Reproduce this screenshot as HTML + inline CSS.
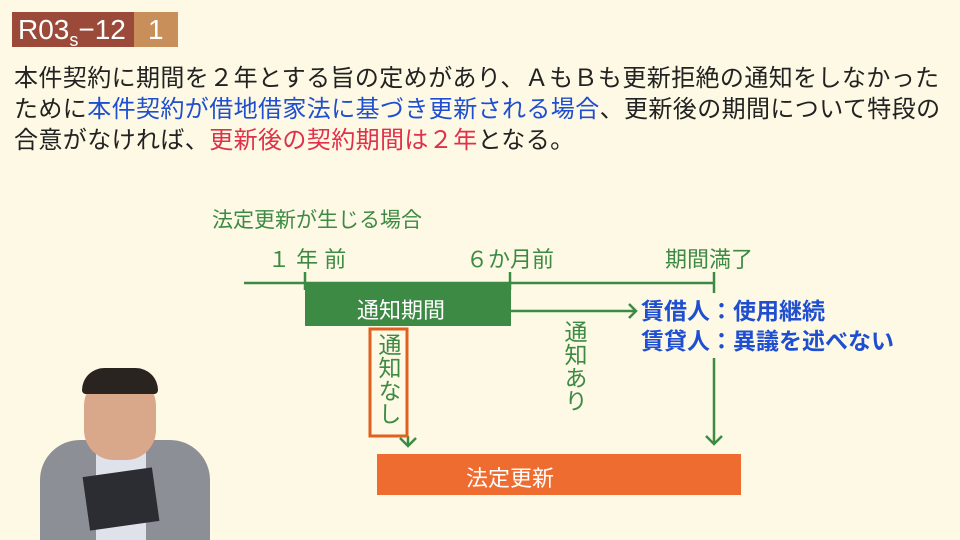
<!DOCTYPE html>
<html><head><meta charset="utf-8"><style>
body{margin:0;width:960px;height:540px;background:#fdf9e4;position:relative;overflow:hidden;font-family:"Liberation Sans","Noto Sans CJK JP",sans-serif}
.a{position:absolute;white-space:nowrap}
.t{font-size:24px;letter-spacing:0.4px;left:14px;color:#222}
.g{color:#3d8a45}
</style></head><body>
<div class="a" style="left:12px;top:12px;width:122px;height:35px;background:#9b4a3a"></div>
<div class="a" style="left:134px;top:12px;width:44px;height:35px;background:#c98f5a"></div>
<div class="a" style="left:18px;top:12px;font-size:28px;color:#fff;line-height:35px">R03<span style="font-size:18px;position:relative;top:7px">s</span>−12</div>
<div class="a" style="left:148px;top:12px;font-size:28px;color:#fff;line-height:35px">1</div>
<div class="a t" style="top:58px">本件契約に期間を２年とする旨の定めがあり、ＡもＢも更新拒絶の通知をしなかった</div>
<div class="a t" style="top:89px">ために<span style="color:#1f4fd0">本件契約が借地借家法に基づき更新される場合</span>、更新後の期間について特段の</div>
<div class="a t" style="top:120px">合意がなければ、<span style="color:#e0304a">更新後の契約期間は２年</span>となる。</div>
<div class="a g" style="left:212px;top:204px;font-size:21px">法定更新が生じる場合</div>
<div class="a g" style="left:268px;top:242px;font-size:22px">１ 年 前</div>
<div class="a g" style="left:466px;top:242px;font-size:22px">６か月前</div>
<div class="a g" style="left:665px;top:242px;font-size:22px">期間満了</div>
<svg class="a" style="left:0;top:0" width="960" height="540">
<g stroke="#3d8a45" stroke-width="2.5" fill="none">
<line x1="244" y1="283" x2="714" y2="283"/>
<line x1="305" y1="272" x2="305" y2="290"/>
<line x1="510" y1="272" x2="510" y2="290"/>
<line x1="714" y1="272" x2="714" y2="293"/>
<line x1="511" y1="311" x2="636" y2="311"/>
<polyline points="629,304 636,311 629,318"/>
<line x1="714" y1="358" x2="714" y2="444"/>
<polyline points="706,436 714,444 722,436"/>
<line x1="408" y1="436" x2="408" y2="446"/>
<polyline points="400,438 408,446 416,438"/>
</g>
<rect x="305" y="284" width="206" height="42" fill="#3d8a45"/>
<rect x="370" y="329" width="37" height="107" fill="none" stroke="#e06020" stroke-width="3"/>
<rect x="377" y="454" width="364" height="41" fill="#ef6c30"/>
</svg>
<div class="a" style="left:357px;top:293px;font-size:22px;color:#fff">通知期間</div>
<div class="a" style="left:466px;top:461px;font-size:22px;color:#fff">法定更新</div>
<div class="a g" style="left:376px;top:333px;font-size:23px;writing-mode:vertical-rl;line-height:24px">通知なし</div>
<div class="a g" style="left:562px;top:320px;font-size:23px;writing-mode:vertical-rl;line-height:24px">通知あり</div>
<div class="a" style="left:641px;top:296px;font-size:23px;color:#1f4fd0;line-height:30px;font-weight:bold">賃借人：使用継続<br>賃貸人：異議を述べない</div>
<!-- person -->
<div class="a" style="left:40px;top:440px;width:170px;height:100px;background:#8c8f96;border-radius:40px 40px 0 0"></div>
<div class="a" style="left:96px;top:448px;width:50px;height:92px;background:#dfe2ea"></div>
<div class="a" style="left:84px;top:372px;width:72px;height:88px;background:#d9a78a;border-radius:34px 34px 30px 30px"></div>
<div class="a" style="left:82px;top:368px;width:76px;height:26px;background:#2a2420;border-radius:36px 36px 6px 6px"></div>
<div class="a" style="left:86px;top:472px;width:70px;height:54px;background:#2b2d33;transform:rotate(-8deg)"></div>
</body></html>
